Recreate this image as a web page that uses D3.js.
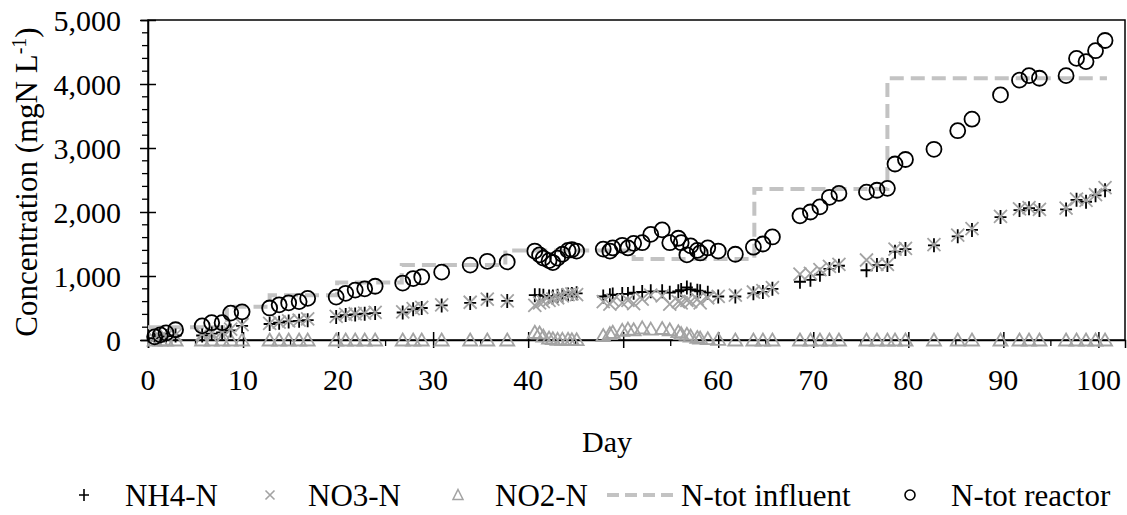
<!DOCTYPE html>
<html>
<head>
<meta charset="utf-8">
<script src="https://cdn.jsdelivr.net/npm/d3@7"></script>
<style>
  html, body { margin: 0; padding: 0; background: #fff; }
  svg { display: block; }
</style>
</head>
<body>
<svg id="chart" width="1127" height="515"></svg>
<script>
// ---- data ----
const days = [0.7,1.3,1.9,2.9,5.7,6.7,7.8,8.7,9.9,12.8,13.8,14.8,15.9,16.8,19.8,20.8,21.8,22.8,23.9,
  26.8,27.9,28.8,30.9,33.9,35.7,37.8,40.7,41.2,41.6,42.2,42.6,43.1,43.6,44.2,44.6,45.1,
  47.9,48.6,48.9,49.9,50.5,51.1,52.0,52.9,54.1,54.9,55.8,56.1,56.7,57.1,57.8,58.1,58.9,60.0,
  61.8,63.7,64.7,65.7,68.6,69.7,70.7,71.7,72.7,75.6,76.7,77.8,78.6,79.7,82.7,85.2,86.7,89.7,
  91.7,92.7,93.8,96.6,97.7,98.7,99.7,100.7];
const ntotReactor = [50,80,110,160,220,270,270,420,440,500,550,580,600,650,670,730,780,800,840,
  890,960,985,1060,1170,1230,1220,1390,1330,1280,1240,1210,1280,1340,1400,1410,1390,
  1420,1390,1440,1480,1440,1510,1520,1650,1720,1520,1590,1520,1330,1470,1400,1360,1440,1390,
  1340,1450,1500,1610,1940,2000,2080,2230,2290,2310,2340,2370,2750,2820,2980,3270,3450,3830,
  4060,4130,4090,4130,4400,4350,4520,4680];
const nh4 = [30,50,60,70,70,100,120,150,220,250,270,290,300,310,360,390,400,410,420,
  430,480,500,540,580,630,610,700,700,690,680,680,690,700,710,720,730,
  680,700,710,720,720,740,750,760,760,740,760,780,820,790,770,760,740,680,
  680,730,750,800,910,940,1020,1110,1160,1090,1170,1170,1380,1420,1480,1620,1720,1920,
  2030,2060,2030,2040,2190,2160,2260,2340];
const no3 = [20,40,60,80,90,110,130,170,240,260,280,300,310,330,370,400,410,420,430,
  440,490,510,550,590,640,610,540,580,600,620,640,660,690,710,720,710,
  600,560,620,580,620,570,640,700,690,560,600,580,620,600,640,580,660,680,
  700,750,770,820,1030,1040,1100,1150,1180,1250,1180,1180,1420,1430,1490,1640,1740,1930,
  2050,2070,2040,2060,2200,2180,2270,2380];
const no2 = [0,0,0,0,0,0,0,0,0,0,0,0,0,0,0,0,0,0,0,
  0,0,0,0,0,0,0,120,110,60,30,20,10,10,10,5,5,
  70,100,120,150,170,160,190,170,180,160,130,100,90,60,40,30,20,10,
  0,0,0,0,0,0,0,0,0,0,0,0,0,0,0,0,0,0,
  0,0,0,0,0,0,0,0];
// influent: day where each level starts, and the level
const influentDays = [0, 8.3, 12.8, 19.9, 26.7, 37.6, 51.1, 63.8, 77.8, 100.9];
const influentLevels = [200, 520, 700, 900, 1170, 1400, 1265, 2360, 4090, 4090];

const yTicks = [0,1000,2000,3000,4000,5000];
const xTicks = [0,10,20,30,40,50,60,70,80,90,100];
const legendItems = ["NH4-N","NO3-N","NO2-N","N-tot influent","N-tot reactor"];

// ---- layout ----
const svg = d3.select("#chart");
const L = 148, R = 1125, T = 20, B = 340;
const x = d3.scaleLinear().domain([0, 102.8]).range([L, R]);
const y = d3.scaleLinear().domain([0, 5000]).range([B, T]);
const FONT = "Liberation Serif";
const GRAY = "#a3a3a3";
const DASH = "#c3c3c3";

function label(g, px, py, anchor, str, fs) {
  return g.append("text")
    .attr("x", px).attr("y", py)
    .attr("text-anchor", anchor)
    .attr("font-family", FONT).attr("font-size", fs).attr("fill", "#000")
    .text(str);
}

// frame
svg.append("rect").attr("x", L).attr("y", T).attr("width", R - L).attr("height", B - T)
  .attr("fill", "none").attr("stroke", "#000").attr("stroke-width", 1.5);

// y axis minor ticks
const yMinor = d3.range(0, 5001, 200).filter(v => v % 1000 !== 0);
svg.append("g").selectAll("line").data(yMinor).join("line")
  .attr("x1", L - 6).attr("x2", L).attr("y1", d => y(d)).attr("y2", d => y(d))
  .attr("stroke", "#000").attr("stroke-width", 1.3);
// y axis major
const gy = svg.append("g").attr("transform", `translate(${L},0)`)
  .call(d3.axisLeft(y).tickValues(yTicks).tickFormat("").tickSize(7));
gy.select(".domain").attr("stroke", "#000").attr("stroke-width", 1.5);
gy.selectAll(".tick line").attr("x1", -8).attr("x2", 8).attr("stroke", "#000").attr("stroke-width", 1.5);
gy.selectAll(".tick text").remove();
const yLab = svg.append("g");
yTicks.forEach(v => label(yLab, L - 27, y(v) + 10.5, "end", d3.format(",")(v), 30));

// x axis minor ticks
const xMinor = d3.range(5, 101, 10);
svg.append("g").selectAll("line").data(xMinor).join("line")
  .attr("x1", d => x(d)).attr("x2", d => x(d)).attr("y1", B).attr("y2", B + 6)
  .attr("stroke", "#000").attr("stroke-width", 1.3);
const gx = svg.append("g").attr("transform", `translate(0,${B})`)
  .call(d3.axisBottom(x).tickValues(xTicks).tickFormat("").tickSize(8));
gx.select(".domain").attr("stroke", "#000").attr("stroke-width", 1.5);
gx.selectAll(".tick line").attr("y1", -8).attr("y2", 8).attr("stroke", "#000").attr("stroke-width", 1.5);
gx.selectAll(".tick text").remove();
const xLab = svg.append("g");
xTicks.forEach(v => label(xLab, x(v), 390, "middle", String(v), 30));

// axis titles
label(svg, 607, 452, "middle", "Day", 30);
const yt = svg.append("text").attr("transform", "translate(37,182) rotate(-90)")
  .attr("text-anchor", "middle").attr("font-family", FONT).attr("font-size", 31).attr("fill", "#000");
yt.append("tspan").text("Concentration (mgN L");
yt.append("tspan").attr("dy", -11).attr("font-size", 20).text("-1");
yt.append("tspan").attr("dy", 11).text(")");

// ---- series ----
const pts = days.map((d, i) => ({d, tn: ntotReactor[i], nh4: nh4[i], no3: no3[i], no2: no2[i]}));

// influent step line
const infl = influentDays.map((d, i) => ({d, v: influentLevels[i]}));
svg.append("path").datum(infl)
  .attr("d", d3.line().x(p => x(p.d)).y(p => y(p.v)).curve(d3.curveStepAfter))
  .attr("fill", "none").attr("stroke", DASH).attr("stroke-width", 4)
  .attr("stroke-dasharray", "14,7");

// NO2 triangles
const triPath = "M0,-6.5L7,5.5L-7,5.5Z";
svg.append("g").selectAll("path").data(pts).join("path")
  .attr("transform", p => `translate(${x(p.d)},${y(p.no2)})`)
  .attr("d", triPath).attr("fill", "none").attr("stroke", GRAY).attr("stroke-width", 1.8);

// NH4 plus
const plusPath = "M-6,0H6M0,-7V7";
svg.append("g").selectAll("path").data(pts).join("path")
  .attr("transform", p => `translate(${x(p.d)},${y(p.nh4)})`)
  .attr("d", plusPath).attr("fill", "none").attr("stroke", "#000").attr("stroke-width", 1.8);

// NO3 cross
const crossPath = "M-6.5,-6.5L6.5,6.5M-6.5,6.5L6.5,-6.5";
svg.append("g").selectAll("path").data(pts).join("path")
  .attr("transform", p => `translate(${x(p.d)},${y(p.no3)})`)
  .attr("d", crossPath).attr("fill", "none").attr("stroke", GRAY).attr("stroke-width", 1.8);

// N-tot reactor circles
svg.append("g").selectAll("circle").data(pts).join("circle")
  .attr("cx", p => x(p.d)).attr("cy", p => y(p.tn)).attr("r", 7.5)
  .attr("fill", "none").attr("stroke", "#000").attr("stroke-width", 1.8);

// ---- legend ----
const LY = 495;
const lg = svg.append("g");
const mk = [84, 270, 458, 0, 910];
const tx = [125, 308, 495, 681, 951];
lg.append("path").attr("transform", `translate(${mk[0]},${LY})`).attr("d", "M-5,0H5M0,-6V6")
  .attr("stroke", "#000").attr("stroke-width", 1.6);
lg.append("path").attr("transform", `translate(${mk[1]},${LY})`).attr("d", "M-4.5,-4.5L4.5,4.5M-4.5,4.5L4.5,-4.5")
  .attr("stroke", GRAY).attr("stroke-width", 1.6);
lg.append("path").attr("transform", `translate(${mk[2]},${LY})`).attr("d", "M0,-5.5L5,4.5L-5,4.5Z")
  .attr("fill", "none").attr("stroke", GRAY).attr("stroke-width", 1.5);
lg.append("line").attr("x1", 607).attr("x2", 673).attr("y1", LY).attr("y2", LY)
  .attr("stroke", DASH).attr("stroke-width", 4).attr("stroke-dasharray", "12,6");
lg.append("circle").attr("cx", mk[4]).attr("cy", LY).attr("r", 5)
  .attr("fill", "none").attr("stroke", "#000").attr("stroke-width", 1.6);
legendItems.forEach((t, i) => label(lg, tx[i], LY + 11, "start", t, 31));
</script>
</body>
</html>
